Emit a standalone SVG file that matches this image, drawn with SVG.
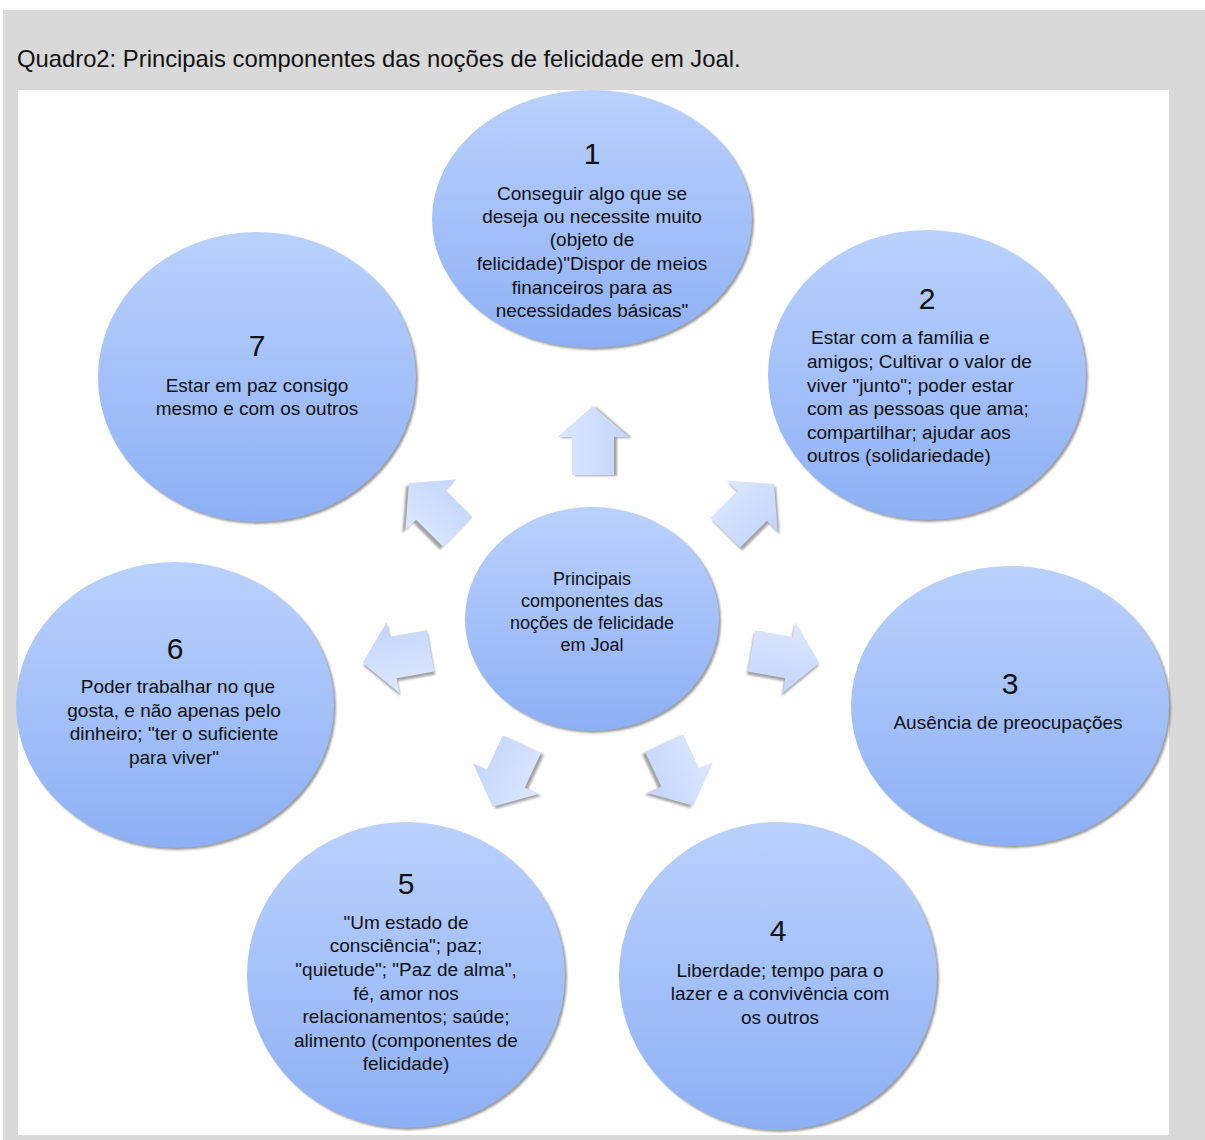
<svg xmlns="http://www.w3.org/2000/svg" xmlns:xlink="http://www.w3.org/1999/xlink" width="1205" height="1140" viewBox="0 0 1205 1140">
<style>
.t{font-family:"Liberation Sans",Arial,sans-serif;font-size:19px;fill:#111;text-anchor:middle}
.tl{font-family:"Liberation Sans",Arial,sans-serif;font-size:19px;fill:#111}
.n{font-family:"Liberation Sans",Arial,sans-serif;font-size:30px;fill:#111;text-anchor:middle}
.c{font-family:"Liberation Sans",Arial,sans-serif;font-size:18px;fill:#111;text-anchor:middle}
.ttl{font-family:"Liberation Sans",Arial,sans-serif;font-size:23.8px;fill:#111}
.circ{fill:url(#cg)}
.sh{fill:#7a7a7a;opacity:0.75;filter:url(#blur)}
.af{fill:url(#ag)}
.ash{fill:#8c8c8c;opacity:0.8;filter:url(#blur2)}
</style>
<defs>
<linearGradient id="cg" x1="0" y1="0" x2="0" y2="1">
<stop offset="0" stop-color="#bad1fd"/>
<stop offset="1" stop-color="#8db0f5"/>
</linearGradient>
<linearGradient id="ag" x1="0" y1="0" x2="1" y2="0">
<stop offset="0" stop-color="#dde8fe"/>
<stop offset="1" stop-color="#c2d5fc"/>
</linearGradient>
<filter id="blur" x="-10%" y="-10%" width="120%" height="120%"><feGaussianBlur stdDeviation="1.2"/></filter>
<filter id="blur2" x="-20%" y="-20%" width="140%" height="140%"><feGaussianBlur stdDeviation="0.8"/></filter>
<path id="arr" d="M0,-34 L36,-3 L21,-3 L21,35 L-21,35 L-21,-3 L-36,-3 Z"/>
</defs>
<rect x="3" y="10" width="1202" height="1130" fill="#d9d9d9"/>
<rect x="18" y="90" width="1151" height="1045" fill="#ffffff"/>
<text class="ttl" x="17" y="67">Quadro2: Principais componentes das noções de felicidade em Joal.</text>

<g id="connectors">
<g transform="translate(593,440)"><use xlink:href="#arr" class="ash" transform="translate(3,1)"/><use xlink:href="#arr" class="af"/></g>
<g transform="translate(750,508)"><use xlink:href="#arr" class="ash" transform="translate(2,3) rotate(45)"/><use xlink:href="#arr" class="af" transform="rotate(45)"/></g>
<g transform="translate(786,657)"><use xlink:href="#arr" class="ash" transform="translate(-1,3) rotate(100)"/><use xlink:href="#arr" class="af" transform="rotate(100)"/></g>
<g transform="translate(679,775)"><use xlink:href="#arr" class="ash" transform="translate(-3,2) rotate(155)"/><use xlink:href="#arr" class="af" transform="rotate(155)"/></g>
<g transform="translate(507,776)"><use xlink:href="#arr" class="ash" transform="translate(3,2) rotate(205)"/><use xlink:href="#arr" class="af" transform="rotate(205)"/></g>
<g transform="translate(396,657)"><use xlink:href="#arr" class="ash" transform="translate(1,3) rotate(260)"/><use xlink:href="#arr" class="af" transform="rotate(260)"/></g>
<g transform="translate(433,507)"><use xlink:href="#arr" class="ash" transform="translate(-3,3) rotate(315)"/><use xlink:href="#arr" class="af" transform="rotate(315)"/></g>
</g>

<g id="center">
<ellipse class="sh" cx="594" cy="621" rx="127" ry="112"/>
<ellipse class="circ" cx="592" cy="619" rx="127" ry="112"/>
<text class="c" x="592" y="585">Principais</text>
<text class="c" x="592" y="607">componentes das</text>
<text class="c" x="592" y="629">noções de felicidade</text>
<text class="c" x="592" y="651">em Joal</text>
</g>

<g id="node1">
<ellipse class="sh" cx="594" cy="221" rx="160" ry="129"/>
<ellipse class="circ" cx="592" cy="219" rx="160" ry="129"/>
<text class="n" x="592" y="164">1</text>
<text class="t" x="592" y="200">Conseguir algo que se</text>
<text class="t" x="592" y="223">deseja ou necessite muito</text>
<text class="t" x="592" y="246">(objeto de</text>
<text class="t" x="592" y="270">felicidade)"Dispor de meios</text>
<text class="t" x="592" y="294">financeiros para as</text>
<text class="t" x="592" y="317">necessidades básicas"</text>
</g>

<g id="node2">
<ellipse class="sh" cx="929" cy="377" rx="159" ry="145"/>
<ellipse class="circ" cx="927" cy="375" rx="159" ry="145"/>
<text class="n" x="927" y="309">2</text>
<text class="tl" x="811" y="344">Estar com a família e</text>
<text class="tl" x="807" y="368">amigos; Cultivar o valor de</text>
<text class="tl" x="807" y="392">viver "junto"; poder estar</text>
<text class="tl" x="807" y="415">com as pessoas que ama;</text>
<text class="tl" x="807" y="439">compartilhar; ajudar aos</text>
<text class="tl" x="807" y="462">outros (solidariedade)</text>
</g>

<g id="node3">
<ellipse class="sh" cx="1012" cy="708" rx="159" ry="140"/>
<ellipse class="circ" cx="1010" cy="706" rx="159" ry="140"/>
<text class="n" x="1010" y="694">3</text>
<text class="t" x="1008" y="729">Ausência de preocupações</text>
</g>

<g id="node4">
<ellipse class="sh" cx="780" cy="978" rx="159" ry="154"/>
<ellipse class="circ" cx="778" cy="976" rx="159" ry="154"/>
<text class="n" x="778" y="941">4</text>
<text class="t" x="780" y="977">Liberdade; tempo para  o</text>
<text class="t" x="780" y="1000">lazer e a convivência com</text>
<text class="t" x="780" y="1024">os outros</text>
</g>

<g id="node5">
<ellipse class="sh" cx="408" cy="977" rx="159" ry="153"/>
<ellipse class="circ" cx="406" cy="975" rx="159" ry="153"/>
<text class="n" x="406" y="894">5</text>
<text class="t" x="406" y="929">"Um estado de</text>
<text class="t" x="406" y="952">consciência"; paz;</text>
<text class="t" x="406" y="976">"quietude"; "Paz de alma",</text>
<text class="t" x="406" y="1000">fé, amor nos</text>
<text class="t" x="406" y="1023">relacionamentos; saúde;</text>
<text class="t" x="406" y="1047">alimento (componentes de</text>
<text class="t" x="406" y="1070">felicidade)</text>
</g>

<g id="node6">
<ellipse class="sh" cx="177" cy="707" rx="159" ry="143"/>
<ellipse class="circ" cx="175" cy="705" rx="159" ry="143"/>
<text class="n" x="175" y="659">6</text>
<text class="t" x="178" y="693">Poder trabalhar no que</text>
<text class="t" x="174" y="717">gosta, e não apenas pelo</text>
<text class="t" x="174" y="740">dinheiro; "ter o suficiente</text>
<text class="t" x="174" y="764">para viver"</text>
</g>

<g id="node7">
<ellipse class="sh" cx="259" cy="379" rx="159" ry="145"/>
<ellipse class="circ" cx="257" cy="377" rx="159" ry="145"/>
<text class="n" x="257" y="356">7</text>
<text class="t" x="257" y="392">Estar em paz consigo</text>
<text class="t" x="257" y="415">mesmo e com os outros</text>
</g>
</svg>
